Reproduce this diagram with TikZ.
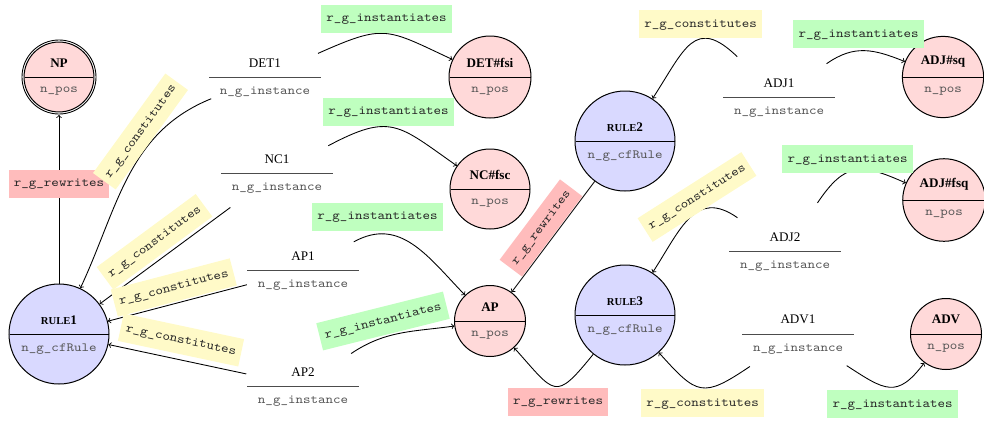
\documentclass[tikz,border=0pt]{standalone}
\usepackage{fontspec}
\setmainfont{Liberation Serif}
\setmonofont[FakeStretch=1.143]{Latin Modern Mono}
\usetikzlibrary{shapes.multipart}
\definecolor{posfill}{RGB}{255,217,217}
\definecolor{rulefill}{RGB}{217,217,255}
\definecolor{instcol}{RGB}{191,255,191}
\definecolor{constcol}{RGB}{255,250,200}
\definecolor{rewrcol}{RGB}{255,188,188}
\definecolor{subtext}{RGB}{85,85,85}
\newcommand{\ttl}[1]{{\fontsize{10.5}{12}\selectfont #1}}
\newcommand{\subtxt}[1]{{\ttfamily\fontsize{10}{12}\selectfont\color{subtext}#1}}
\newcommand{\rsc}[1]{{\fontsize{8.5}{9}\selectfont #1}}
\tikzset{
  basen/.style={circle split, line width=0.8pt, inner ysep=7.5pt, inner xsep=2pt},
  posn/.style={basen, draw=black, fill=posfill},
  rulen/.style={basen, draw=black, fill=rulefill, minimum size=80pt},
  instn/.style={basen, minimum size=89.6pt, outer sep=1.6pt,
    append after command={([xshift=-44.8pt]\tikzlastnode.center) edge[draw, line width=0.8pt, black!70] ([xshift=44.8pt]\tikzlastnode.center)}},
  conn/.style={->, line width=0.7pt},
  lab/.style={font=\ttfamily\fontsize{10}{12}\selectfont, text=black!85, inner xsep=4.2pt, inner ysep=0pt, minimum height=22.4pt, text height=6.5pt, text depth=1.5pt},
  instl/.style={lab, fill=instcol},
  constl/.style={lab, fill=constcol},
  rewl/.style={lab, fill=rewrcol}
}
\begin{document}
\begin{tikzpicture}[x=0.8pt, y=-0.8pt]
\useasboundingbox (0,0) rectangle (984,420);
% class nodes
\node[posn, minimum size=55.2pt, outer sep=2.4pt] (NP) at (59,77) {\ttl{\bfseries NP}\nodepart{lower}\subtxt{n\_pos}};
\draw[line width=0.7pt] (NP.center) circle[radius=29.6pt];
\node[posn, minimum size=65.6pt] (DETfsi) at (490,77) {\ttl{\bfseries DET\#fsi}\nodepart{lower}\subtxt{n\_pos}};
\node[posn, minimum size=64pt] (NCfsc) at (490,189) {\ttl{\bfseries NC\#fsc}\nodepart{lower}\subtxt{n\_pos}};
\node[posn, minimum size=56.8pt] (AP) at (490,321) {\ttl{\bfseries AP}\nodepart{lower}\subtxt{n\_pos}};
\node[posn, minimum size=65pt] (ADJsq) at (943,77) {\ttl{\bfseries ADJ\#sq}\nodepart{lower}\subtxt{n\_pos}};
\node[posn, minimum size=65.6pt] (ADJfsq) at (944,200) {\ttl{\bfseries ADJ\#fsq}\nodepart{lower}\subtxt{n\_pos}};
\node[posn, minimum size=56.8pt] (ADV) at (946,334) {\ttl{\bfseries ADV}\nodepart{lower}\subtxt{n\_pos}};
% rule nodes
\node[rulen] (RULE1) at (59,334) {\ttl{\bfseries\rsc{RULE}1}\nodepart{lower}\subtxt{n\_g\_cfRule}};
\node[rulen] (RULE2) at (625,141) {\ttl{\bfseries\rsc{RULE}2}\nodepart{lower}\subtxt{n\_g\_cfRule}};
\node[rulen] (RULE3) at (625,315) {\ttl{\bfseries\rsc{RULE}3}\nodepart{lower}\subtxt{n\_g\_cfRule}};
% instance nodes
\node[instn] (DET1) at (265,77) {\ttl{DET1}\nodepart{lower}\subtxt{n\_g\_instance}};
\node[instn] (NC1) at (277,173) {\ttl{NC1}\nodepart{lower}\subtxt{n\_g\_instance}};
\node[instn] (AP1) at (303,270) {\ttl{AP1}\nodepart{lower}\subtxt{n\_g\_instance}};
\node[instn] (AP2) at (303,386) {\ttl{AP2}\nodepart{lower}\subtxt{n\_g\_instance}};
\node[instn] (ADJ1) at (779,97) {\ttl{ADJ1}\nodepart{lower}\subtxt{n\_g\_instance}};
\node[instn] (ADJ2) at (785,251) {\ttl{ADJ2}\nodepart{lower}\subtxt{n\_g\_instance}};
\node[instn] (ADV1) at (798,334) {\ttl{ADV1}\nodepart{lower}\subtxt{n\_g\_instance}};
% connectors
\draw[conn] (RULE1) -- (NP);
\draw[conn] (DET1) to[out=202, in=65] (RULE1);
\draw[conn] (NC1) -- (RULE1);
\draw[conn] (AP1) -- (RULE1);
\draw[conn] (AP2) -- (RULE1);
\draw[conn] (DET1) to[out=24, in=155, looseness=1.4] (DETfsi);
\draw[conn] (NC1) to[out=28, in=145, looseness=1.4] (NCfsc);
\draw[conn] (AP1) to[out=29, in=134, looseness=1.1] (AP);
\draw[conn] (AP2) to[out=34, in=188] (AP);
\draw[conn] (RULE2) -- (AP);
\draw[conn] (RULE3) to[out=231, in=312, looseness=2] (AP);
\draw[conn] (ADJ1) to[out=136, in=57, looseness=1.6] (RULE2);
\draw[conn] (ADJ1) to[out=35, in=158, looseness=1.1] (ADJsq);
\draw[conn] (ADJ2) to[out=56, in=156, looseness=1.4] (ADJfsq);
\draw[conn] (ADJ2) to[out=145, in=57, looseness=1.3] (RULE3);
\draw[conn] (ADV1) to[out=214, in=312, looseness=1.6] (RULE3);
\draw[conn] (ADV1) to[out=-33, in=233, looseness=1.5] (ADV);
% connector labels
\node[rewl] (L1) at (59,183.5) {r\_g\_rewrites};
\node[constl, rotate=54] (L2) at (140.5,131.5) {r\_g\_constitutes};
\node[constl, rotate=36.4] (L3) at (154.5,241.8) {r\_g\_constitutes};
\node[constl, rotate=14.7] (L4) at (173.8,287.5) {r\_g\_constitutes};
\node[constl, rotate=-12] (L5) at (181,340) {r\_g\_constitutes};
\node[instl] (L6) at (386.5,18.5) {r\_g\_instantiates};
\node[instl] (L7) at (388.5,111.5) {r\_g\_instantiates};
\node[instl] (L8) at (377.5,216.5) {r\_g\_instantiates};
\node[instl, rotate=14] (L9) at (383,321) {r\_g\_instantiates};
\node[rewl, rotate=53.1] (L10) at (541,228) {r\_g\_rewrites};
\node[rewl] (L11) at (558,401.5) {r\_g\_rewrites};
\node[constl] (L12) at (700.5,24) {r\_g\_constitutes};
\node[instl] (L13) at (858.5,34) {r\_g\_instantiates};
\node[instl] (L14) at (847.5,159) {r\_g\_instantiates};
\node[constl, rotate=32.5] (L15) at (697,197) {r\_g\_constitutes};
\node[constl] (L16) at (702.5,403) {r\_g\_constitutes};
\node[instl] (L17) at (892.5,404) {r\_g\_instantiates};
\end{tikzpicture}
\end{document}
